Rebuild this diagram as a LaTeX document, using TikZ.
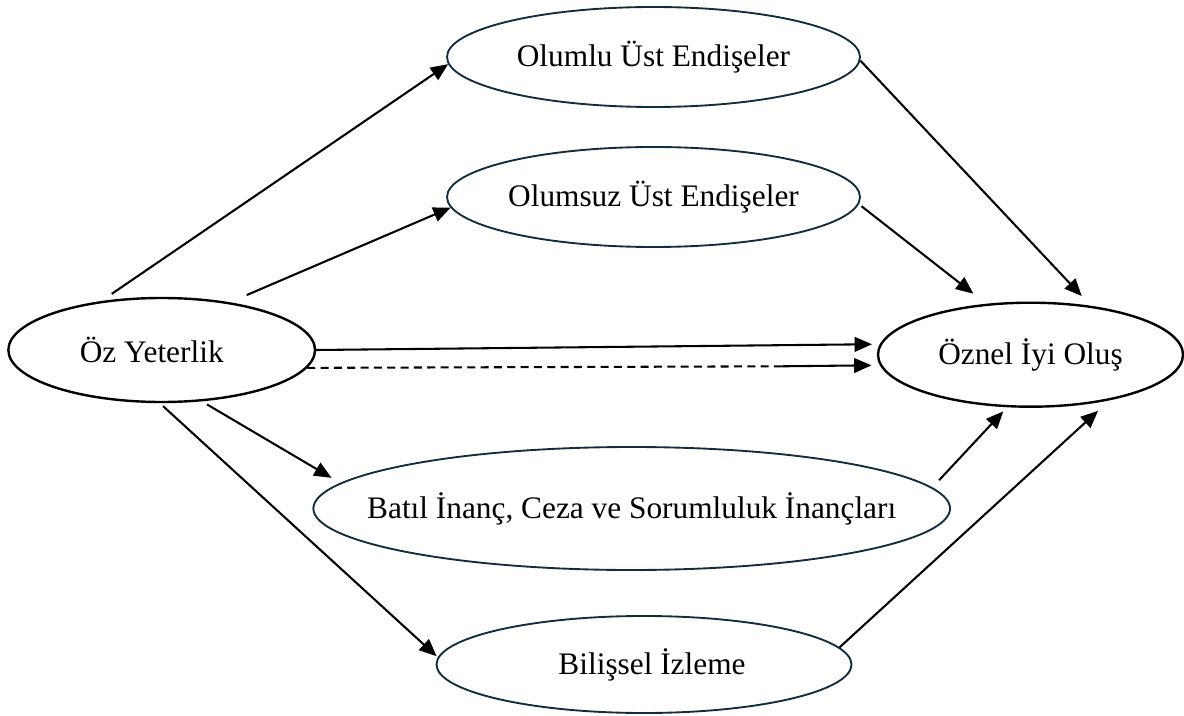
\documentclass[tikz,border=0pt]{standalone}
\usepackage{fontspec}
\setmainfont{Liberation Serif}
\usetikzlibrary{arrows.meta,shapes.geometric}
\definecolor{ovalnavy}{RGB}{16,44,62}

\begin{document}
\begin{tikzpicture}[x=0.75pt,y=-0.75pt,
		oval/.style={ellipse,draw=ovalnavy,line width=1.4pt,inner sep=0pt,font=\fontsize{23.5}{28}\selectfont},
		mainoval/.style={oval,draw=black,line width=1.8pt},
		arr/.style={line width=1.55pt,-{Triangle[length=13pt,width=11pt]}}]
			\useasboundingbox (0,0) rectangle (1184,716);
			\node[mainoval,minimum width=230pt,minimum height=78pt] (oz) at (161.7,350) {\makebox[0pt]{\kern-15pt Öz Yeterlik}};
			\node[mainoval,minimum width=228.75pt,minimum height=78pt] (oznel) at (1030.5,354.7) {Öznel İyi Oluş};
			\node[oval,minimum width=309.75pt,minimum height=75pt] (olumlu) at (653.5,57) {Olumlu Üst Endişeler};
			\node[oval,minimum width=309.75pt,minimum height=75pt] (olumsuz) at (653.5,197) {Olumsuz Üst Endişeler};
			\node[oval,minimum width=477.5pt,minimum height=92.25pt] (batil) at (631.7,508.5) {\makebox[0pt]{Batıl İnanç, Ceza ve Sorumluluk İnançları}};
			\node[oval,minimum width=311.25pt,minimum height=72.75pt] (bilissel) at (644,664.5) {\makebox[0pt]{\kern12pt Bilişsel İzleme}};
			% paths into and out of the mediators
			\foreach \from/\to/\s/\e in {oz.141.4/olumlu.182.2/9.5pt/0pt,oz.35.2/olumsuz.183.6/13.7pt/0pt,
				oz.0.3/oznel.176.3/0pt/5.9pt,oz.-52.1/batil.175.1/4.5pt/7.6pt,oz.268.1/bilissel.178.1/3.3pt/1.2pt,
				olumlu.-1.8/oznel.39.3/0pt/10pt,olumsuz.-2.6/oznel.131.1/2.5pt/12.3pt,
				batil.4.5/oznel.246.4/7.4pt/4.2pt,bilissel.5.65/oznel.-30.25/0pt/11.6pt}
				\draw[arr,shorten <=\s,shorten >=\e] (\from) -- (\to);
			% indirect path
			\coordinate (split) at (781.7,366.3);
			\draw[line width=1.55pt,dash pattern=on 6pt off 4pt] (oz.-7) -- (split);
			\draw[arr,shorten >=6.3pt] (split) -- (oznel.184.2);
		\end{tikzpicture}
\end{document}
